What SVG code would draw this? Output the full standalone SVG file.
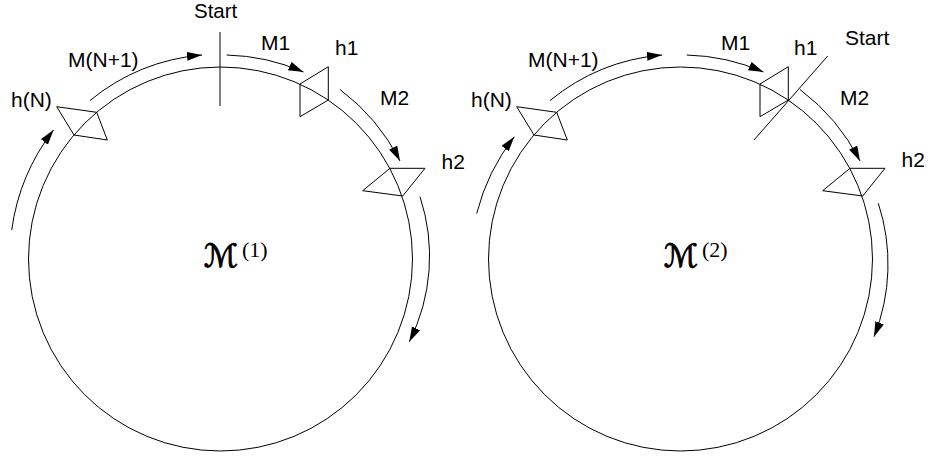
<svg xmlns="http://www.w3.org/2000/svg" width="930" height="457" viewBox="0 0 930 457">
<style>
.ln{fill:none;stroke:#000;stroke-width:1}
.lbl{font-family:"Liberation Sans",Arial,sans-serif;font-size:21px;fill:#000}
.cal{font-family:"DejaVu Serif","DejaVu Sans",serif;font-size:32px;fill:#000;stroke:#000;stroke-width:0.9}
.sup{font-family:"Liberation Serif","DejaVu Serif",serif;font-size:22px;fill:#000}
</style>
<defs>
<marker id="ah" markerUnits="userSpaceOnUse" markerWidth="16" markerHeight="10" refX="15" refY="4.5" orient="auto">
<path d="M0,0 L15,4.5 L0,9 z" fill="#000"/>
</marker>
</defs>
<rect width="930" height="457" fill="#fff"/>

<!-- Left panel -->
<g id="ring1"><circle class="ln" cx="220.5" cy="259" r="192"/></g>
<g id="start1"><line class="ln" x1="220" y1="32" x2="220" y2="106"/><text class="lbl" x="194" y="17.5" style="font-size:20.5px">Start</text></g>
<g id="hN1"><polygon class="ln" points="56.7,106.7 96.7,112.3 107.3,140 74,135"/><text class="lbl" x="11" y="107">h(N)</text></g>
<g id="h1a"><polygon class="ln" points="300,84 328.3,66.7 328.3,100 300,116.7"/><text class="lbl" x="335" y="55">h1</text></g>
<g id="h2a"><polygon class="ln" points="390,168.3 425,168.3 402.7,196 362.7,190.7"/><text class="lbl" x="441.5" y="169">h2</text></g>
<g id="lblM1a"><text class="lbl" x="261" y="50">M1</text></g>
<g id="lblM2a"><text class="lbl" x="380" y="105">M2</text></g>
<g id="lblMN1a"><text class="lbl" x="68" y="66.5">M(N+1)</text></g>
<g id="math1"><text class="cal" x="204" y="267">ℳ</text><text class="sup" x="242" y="257">(1)</text></g>

<!-- Right panel -->
<g id="ring2"><circle class="ln" cx="680.5" cy="259" r="192"/></g>
<g id="start2"><line class="ln" x1="827.7" y1="56" x2="754" y2="140"/><text class="lbl" x="845" y="45">Start</text></g>
<g id="hN2"><polygon class="ln" points="516.7,106.7 556.7,112.3 567.3,140 534,135"/><text class="lbl" x="471" y="107">h(N)</text></g>
<g id="h1b"><polygon class="ln" points="760,84 788.3,66.7 788.3,100 760,116.7"/><text class="lbl" x="794" y="55">h1</text></g>
<g id="h2b"><polygon class="ln" points="850,168.3 885,168.3 862.7,196 822.7,190.7"/><text class="lbl" x="901.5" y="167">h2</text></g>
<g id="lblM1b"><text class="lbl" x="721" y="50">M1</text></g>
<g id="lblM2b"><text class="lbl" x="840" y="105">M2</text></g>
<g id="lblMN1b"><text class="lbl" x="528" y="66.5">M(N+1)</text></g>
<g id="math2"><text class="cal" x="664" y="267">ℳ</text><text class="sup" x="702" y="257">(2)</text></g>

<g id="connectors">
<path class="ln" marker-end="url(#ah)" d="M90,100.5 A205,205 0 0 1 202,55"/>
<path class="ln" marker-end="url(#ah)" d="M226.7,55 A205,205 0 0 1 303.5,72"/>
<path class="ln" marker-end="url(#ah)" d="M340,89.5 A206,206 0 0 1 400,161"/>
<path class="ln" marker-end="url(#ah)" d="M420,196.7 A190,190 0 0 1 409.3,341.7"/>
<path class="ln" marker-end="url(#ah)" d="M11.7,230 A210,210 0 0 1 53.5,130"/>

<path class="ln" marker-end="url(#ah)" d="M550,100.5 A205,205 0 0 1 662,55"/>
<path class="ln" marker-end="url(#ah)" d="M686.7,55 A205,205 0 0 1 763.5,72"/>
<path class="ln" marker-end="url(#ah)" d="M800,89.5 A206,206 0 0 1 860,161"/>
<path class="ln" marker-end="url(#ah)" d="M878.3,203.3 A195,195 0 0 1 874,336.7"/>
<path class="ln" marker-end="url(#ah)" d="M476.7,213.5 A208,208 0 0 1 514.3,136.7"/>
</g>
</svg>
